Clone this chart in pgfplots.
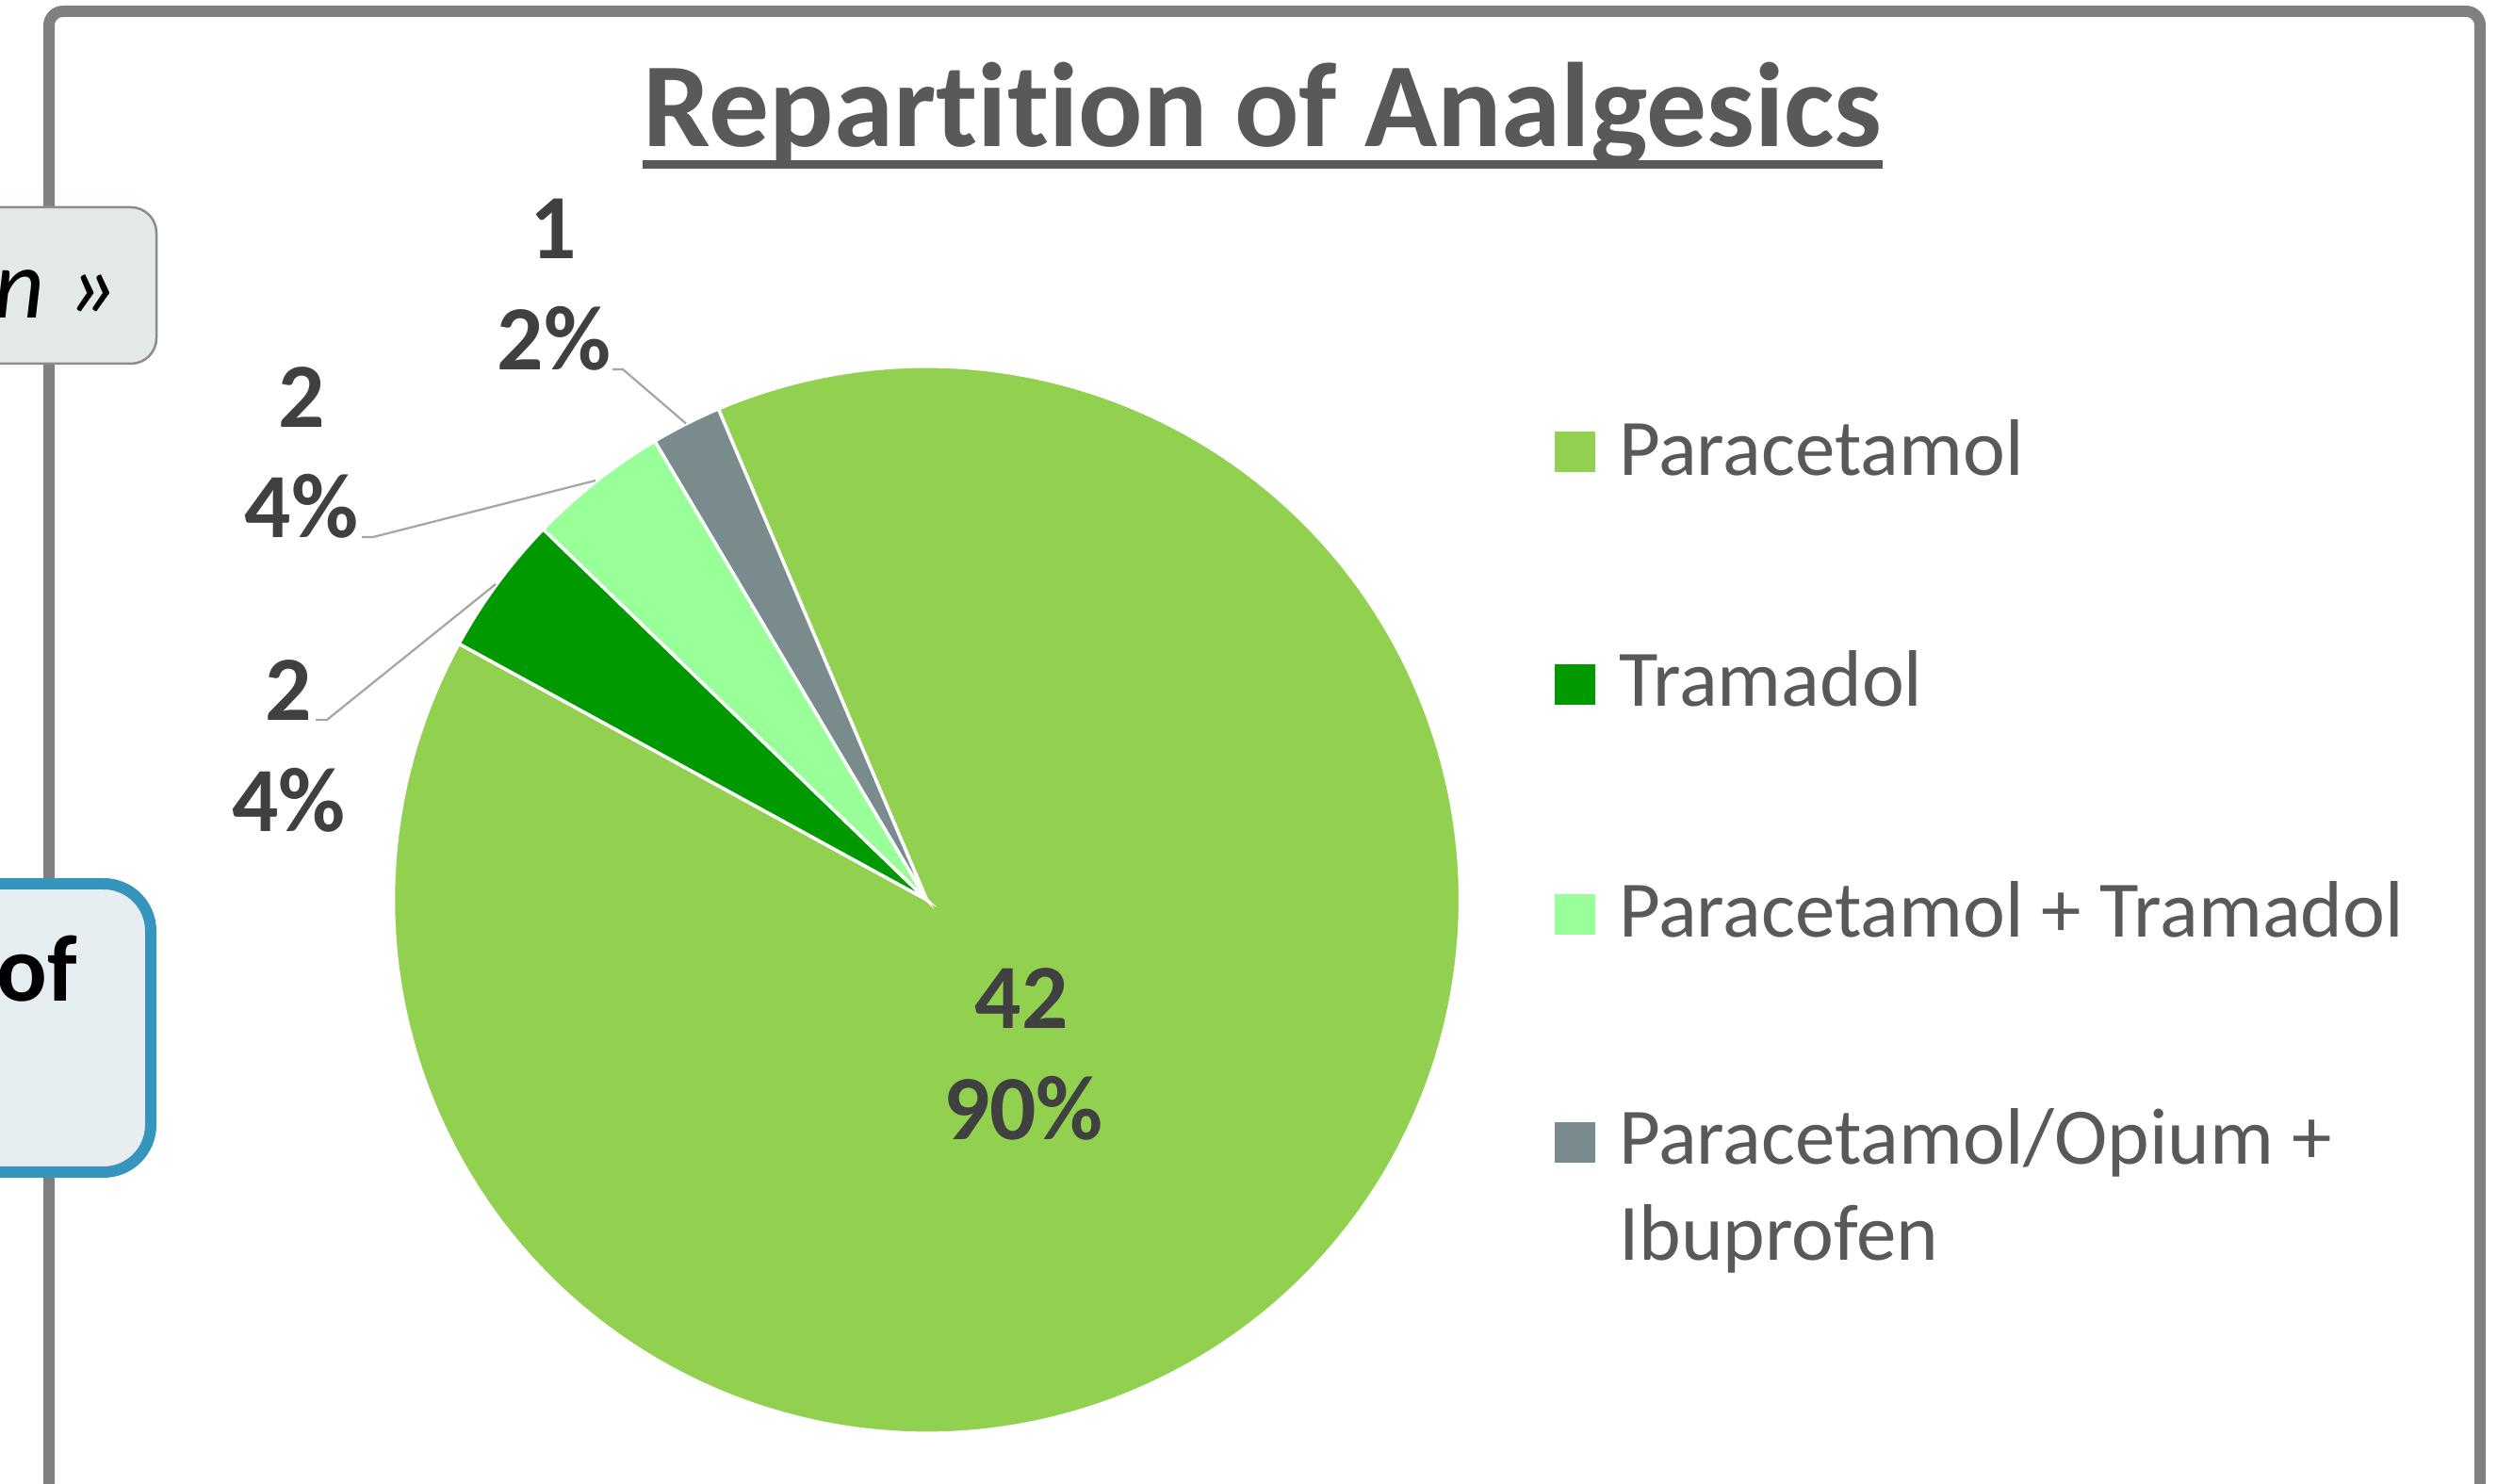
\documentclass[border=0pt]{standalone}
\usepackage{fontspec}
\setmainfont[Ligatures=NoCommon]{Carlito}
\usepackage{pgfplots}
\usepackage{pgfplotstable}
\pgfplotsset{compat=1.18}
\definecolor{cPara}{HTML}{92D050}
\definecolor{cTram}{HTML}{009900}
\definecolor{cPT}{HTML}{99FF99}
\definecolor{cOpi}{HTML}{798B8C}
\definecolor{txt}{HTML}{595959}
\definecolor{lbl}{HTML}{404040}
\definecolor{framec}{HTML}{808080}
\definecolor{lead}{HTML}{A6A6A6}
\definecolor{boxA}{HTML}{E3E8E9}
\definecolor{boxAb}{HTML}{8C8C8C}
\definecolor{boxB}{HTML}{E6EEF1}
\definecolor{boxBb}{HTML}{3595BD}

\pgfplotstableread{
name value
Paracetamol 42
Tramadol 2
ParacetamolTramadol 2
ParacetamolOpiumIbuprofen 1
}\piedata

\newcommand\lblfont{\fontsize{19.5}{23}\selectfont\bfseries}
\newcommand\legfont{\fontsize{17}{20}\selectfont}

\begin{document}
\begin{tikzpicture}
\pgfplotstablegetelem{0}{value}\of\piedata \let\vA\pgfplotsretval
\pgfplotstablegetelem{1}{value}\of\piedata \let\vB\pgfplotsretval
\pgfplotstablegetelem{2}{value}\of\piedata \let\vC\pgfplotsretval
\pgfplotstablegetelem{3}{value}\of\piedata \let\vD\pgfplotsretval
\pgfmathsetmacro\tot{\vA+\vB+\vC+\vD}
\pgfmathsetmacro\aA{113}
\pgfmathsetmacro\aB{\aA-360*\vA/\tot}
\pgfmathsetmacro\aC{\aB-360*\vB/\tot}
\pgfmathsetmacro\aD{\aC-360*\vC/\tot}
\pgfmathsetmacro\aE{\aD-360*\vD/\tot}
\def\R{113.2pt}
\begin{axis}[name=ax, at={(0,0)}, anchor=south west, scale only axis,
  width=530pt, height=315pt, xmin=0, xmax=2650, ymin=0, ymax=1575,
  axis lines=none, clip=false]
% frame
\draw[framec, line width=2.4pt, rounded corners=3pt]
  (axis cs:52,-100) -- (axis cs:52,1563) -- (axis cs:2632,1563) -- (axis cs:2632,-100);
% side boxes
\draw[boxAb, fill=boxA, line width=0.5pt, rounded corners=5.4pt]
  (axis cs:-60,1189) rectangle (axis cs:166,1355);
\node[anchor=base east, inner sep=0, font=\fontsize{21}{25}\selectfont\itshape, text=black]
  at (axis cs:126,1237) {n »};
\draw[boxBb, fill=boxB, line width=2.4pt, rounded corners=10pt]
  (axis cs:-60,331) rectangle (axis cs:160,637);
\node[anchor=base east, inner sep=0, font=\fontsize{20}{24}\selectfont\bfseries, text=black]
  at (axis cs:83,512) {of};
% pie slices
\filldraw[fill=cPara, draw=white, line width=0.7pt] (axis cs:983.5,620) -- ++(\aA:\R)
  arc[start angle=\aA, end angle=\aB, radius=\R] -- cycle;
\filldraw[fill=cTram, draw=white, line width=0.7pt] (axis cs:983.5,620) -- ++(\aB:\R)
  arc[start angle=\aB, end angle=\aC, radius=\R] -- cycle;
\filldraw[fill=cPT, draw=white, line width=0.7pt] (axis cs:983.5,620) -- ++(\aC:\R)
  arc[start angle=\aC, end angle=\aD, radius=\R] -- cycle;
\filldraw[fill=cOpi, draw=white, line width=0.7pt] (axis cs:983.5,620) -- ++(\aD:\R)
  arc[start angle=\aD, end angle=\aE, radius=\R] -- cycle;
% leader lines
\draw[lead, line width=0.45pt] (axis cs:650,1183) -- (axis cs:661,1183) -- (axis cs:728,1125.5);
\draw[lead, line width=0.45pt] (axis cs:384,1005) -- (axis cs:396,1005) -- (axis cs:632,1065);
\draw[lead, line width=0.45pt] (axis cs:335,811) -- (axis cs:347,811) -- (axis cs:526,955);
% data labels
\node[anchor=base, inner sep=0, font=\lblfont, text=lbl] at (axis cs:587,1300) {1};
\node[anchor=base, inner sep=0, font=\lblfont, text=lbl] at (axis cs:588,1182) {2\%};
\node[anchor=base, inner sep=0, font=\lblfont, text=lbl] at (axis cs:320,1121) {2};
\node[anchor=base, inner sep=0, font=\lblfont, text=lbl] at (axis cs:320,1004) {4\%};
\node[anchor=base, inner sep=0, font=\lblfont, text=lbl] at (axis cs:306,810) {2};
\node[anchor=base, inner sep=0, font=\lblfont, text=lbl] at (axis cs:306.5,692) {4\%};
\node[anchor=base, inner sep=0, font=\lblfont, text=lbl] at (axis cs:1084,483) {42};
\node[anchor=base, inner sep=0, font=\lblfont, text=lbl] at (axis cs:1086,365) {90\%};
% title
\node[anchor=base, inner sep=0, font=\fontsize{25.5}{30}\selectfont\bfseries, text=txt]
  (title) at (axis cs:1340,1419) {Repartition of Analgesics};
\fill[txt] ([yshift=-2.8pt]title.base west) rectangle ([yshift=-4.6pt]title.base east);
% legend
\fill[cPara] (axis cs:1649.5,1073.5) rectangle (axis cs:1692.5,1116.5);
\fill[cTram] (axis cs:1649.5,826.5) rectangle (axis cs:1692.5,869.5);
\fill[cPT]   (axis cs:1649.5,582.5) rectangle (axis cs:1692.5,625.5);
\fill[cOpi]  (axis cs:1649.5,340.5) rectangle (axis cs:1692.5,383.5);
\node[anchor=base west, inner sep=0, font=\legfont, text=txt] at (axis cs:1717,1070) {Paracetamol};
\node[anchor=base west, inner sep=0, font=\legfont, text=txt] at (axis cs:1717,825) {Tramadol};
\node[anchor=base west, inner sep=0, font=\legfont, text=txt] at (axis cs:1717,580) {Paracetamol + Tramadol};
\node[anchor=base west, inner sep=0, font=\legfont, text=txt] at (axis cs:1717,339) {Paracetamol/Opium +};
\node[anchor=base west, inner sep=0, font=\legfont, text=txt] at (axis cs:1717,237) {Ibuprofen};
\end{axis}
\pgfresetboundingbox
\path[use as bounding box] (ax.south west) rectangle (ax.north east);
\end{tikzpicture}
\end{document}
